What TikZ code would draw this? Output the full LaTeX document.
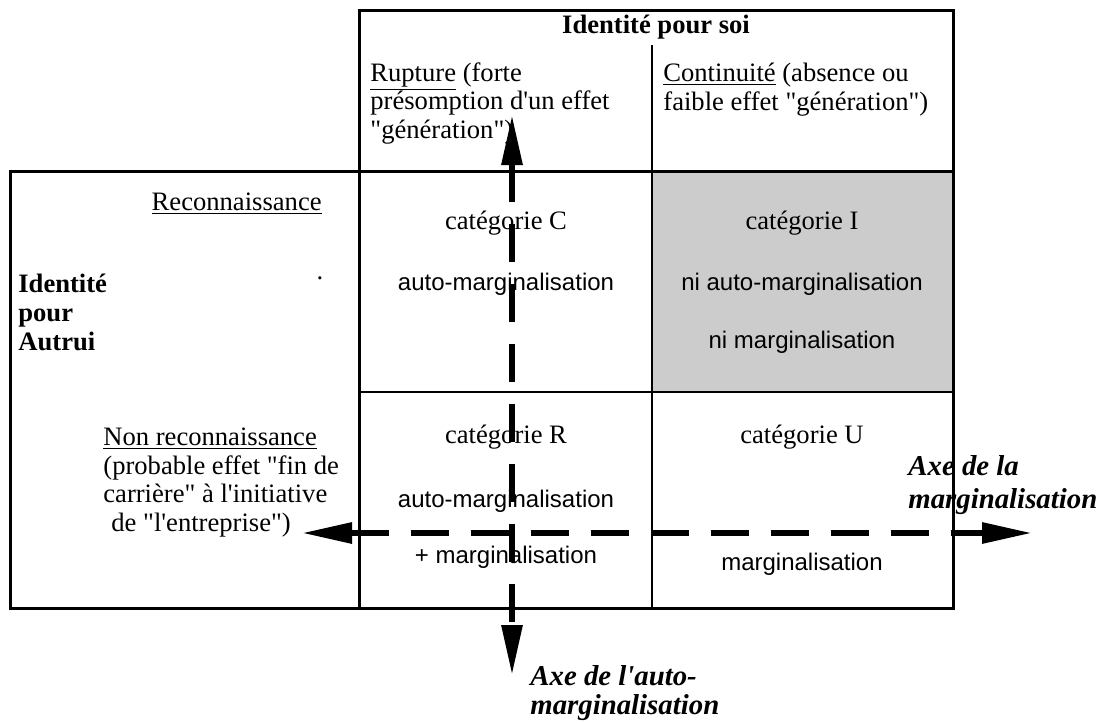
\documentclass[tikz,border=0pt]{standalone}
\usepackage{fontspec}
\setmainfont{Liberation Serif}[Ligatures=TeXOff]
\setsansfont{Liberation Sans}
\usetikzlibrary{arrows.meta, positioning}

\begin{document}
\begin{tikzpicture}[x=0.5pt, y=-0.5pt,
  frame/.style={line width=1.5pt},
  rule/.style={line width=0.75pt},
  label/.style={font=\fontsize{13.3}{14.2}\selectfont, inner sep=0pt, align=left},
  cat/.style={font=\fontsize{13.3}{14.2}\selectfont, inner sep=0pt},
  effet/.style={font=\sffamily\fontsize{12}{14}\selectfont, inner sep=0pt},
  axe/.style={font=\bfseries\itshape\fontsize{14.4}{16.5}\selectfont, inner sep=0pt, align=left},
  axis/.style={line width=3pt, dash pattern=on 19pt off 11pt,
    {Triangle[length=25pt, width=10pt]}-{Triangle[length=25pt, width=10pt]}}
]
  \useasboundingbox (0,0) rectangle (1114,723);
  % shaded cell
  \fill[black!20] (652,171) rectangle (953,392);

  % headers (multi-line nodes sit on their last line)
  \node[font=\bfseries\fontsize{13.3}{14.2}\selectfont, inner sep=0pt, anchor=base] (soi) at (656,33) {Identité pour soi};
  \node[label, anchor=base west] (rupture) at (370,138) {\underline{Rupture} (forte\\présomption d'un effet\\"génération")};
  \node[label, anchor=base west] (continuite) at (663,110) {\underline{Continuité} (absence ou\\faible effet "génération")};
  \node[label, anchor=base east] (reco) at (322,210) {\underline{Reconnaissance}};
  \node[label, font=\bfseries\fontsize{13.3}{14.5}\selectfont, anchor=base west] (autrui) at (18,350) {Identité\\pour\\Autrui};
  \node[cat, anchor=base] (point) at (320,279) {.};
  \node[label, font=\fontsize{13.3}{14.2}\selectfont, anchor=base west] (nonreco) at (103,531) {\underline{Non reconnaissance}\\(probable effet "fin de\\carrière" à l'initiative\\\hspace*{4pt}de "l'entreprise")};

  % cells
  \node[cat, anchor=base] (catC) at (506,229) {catégorie C};
  \node[effet, anchor=base] (autoC) at (506,290) {auto-marginalisation};
  \node[cat, anchor=base] (catI) at (802,229) {catégorie I};
  \node[effet, anchor=base] (autoI) at (802,290) {ni auto-marginalisation};
  \node[effet, anchor=base] (margI) at (802,348) {ni marginalisation};
  \node[cat, anchor=base] (catR) at (506,443) {catégorie R};
  \node[effet, anchor=base] (autoR) at (506,507) {auto-marginalisation};
  \node[effet, anchor=base] (margR) at (506,563) {+ marginalisation};
  \node[cat, anchor=base] (catU) at (802,443) {catégorie U};
  \node[effet, anchor=base] (margU) at (802,570) {marginalisation};

  % axis labels
  \node[axe, anchor=base west] (axeh) at (908,508) {Axe de la\\marginalisation};
  \node[axe, font=\bfseries\itshape\fontsize{14.4}{14.5}\selectfont, anchor=base west] (axev) at (530,714) {Axe de l'auto-\\marginalisation};

  % frames
  \draw[frame] (359,10) rectangle (953,171);
  \draw[frame] (10,171) rectangle (359,608);
  \draw[frame] (359,171) rectangle (953,608);
  \draw[rule] (652,45) -- (652,608);
  \draw[rule] (359,392) -- (953,392);

  % axes
  \coordinate (gauche) at (302,533);
  \coordinate (droite) at (1032,533);
  \coordinate (haut) at (512,115);
  \coordinate (bas) at (512,675);
  \draw[axis] (gauche) -- (droite);
  \draw[axis] (haut) -- (bas);
\end{tikzpicture}
\end{document}
